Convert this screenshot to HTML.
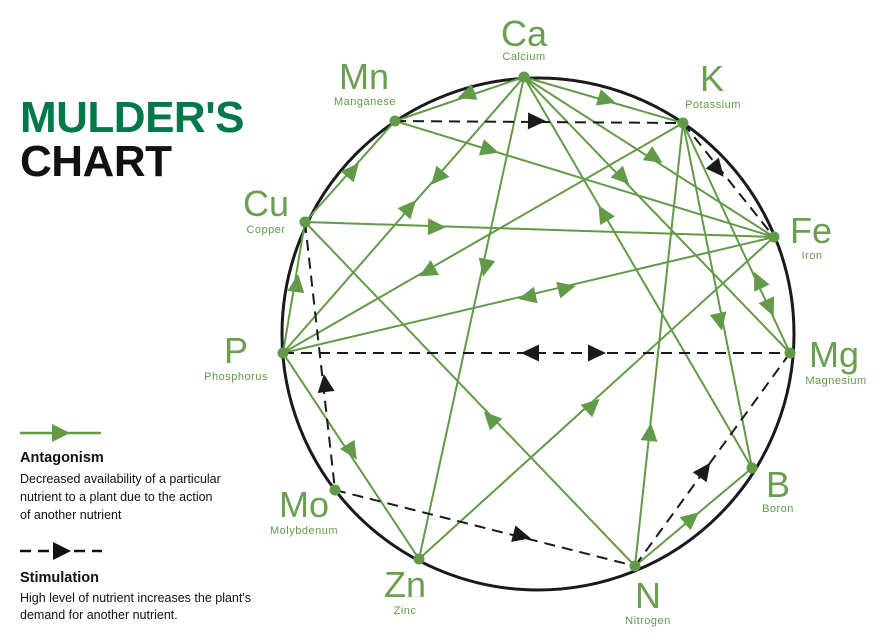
<!DOCTYPE html>
<html><head><meta charset="utf-8"><style>
html,body{margin:0;padding:0;background:#fff;}
svg{display:block;font-family:"Liberation Sans",sans-serif;}
.b{fill:#6a9f52;font-size:36px;text-anchor:middle;}
.s{fill:#629a48;font-size:11px;text-anchor:middle;letter-spacing:0.5px;}
.lt{font-size:12.5px;fill:#111;}
</style></head><body>
<svg id="c" width="881" height="637" viewBox="0 0 881 637" xmlns="http://www.w3.org/2000/svg">
<text x="20" y="132" font-size="44" font-weight="bold" fill="#00794a" letter-spacing="-0.5">MULDER'S</text>
<text x="20" y="176" font-size="44" font-weight="bold" fill="#111" letter-spacing="-0.5">CHART</text>
<line x1="20" y1="433" x2="101" y2="433" stroke="#629a48" stroke-width="2.5"/>
<polygon points="52,424 70,433 52,442" fill="#629a48"/>
<text x="20" y="462" font-size="14.5" font-weight="bold" fill="#111">Antagonism</text>
<text x="20" y="483" class="lt">Decreased availability of a particular</text>
<text x="20" y="501" class="lt">nutrient to a plant due to the action</text>
<text x="20" y="519" class="lt">of another nutrient</text>
<line x1="20" y1="551" x2="102" y2="551" stroke="#111" stroke-width="2.5" stroke-dasharray="11,7"/>
<polygon points="53,542 71,551 53,560" fill="#111"/>
<text x="20" y="582" font-size="14.5" font-weight="bold" fill="#111">Stimulation</text>
<text x="20" y="602" class="lt">High level of nutrient increases the plant's</text>
<text x="20" y="619" class="lt">demand for another nutrient.</text>
<circle cx="538" cy="334" r="256" fill="none" stroke="#1a1a1a" stroke-width="3"/>
<g id="lines"></g>
<text x="524" y="46" class="b">Ca</text><text x="524" y="60" class="s">Calcium</text>
<text x="364" y="89" class="b">Mn</text><text x="365" y="105" class="s">Manganese</text>
<text x="712" y="91" class="b">K</text><text x="713" y="108" class="s">Potassium</text>
<text x="266" y="216" class="b">Cu</text><text x="266" y="233" class="s">Copper</text>
<text x="811" y="243" class="b">Fe</text><text x="812" y="259" class="s">Iron</text>
<text x="236" y="363" class="b">P</text><text x="236" y="380" class="s">Phosphorus</text>
<text x="834" y="367" class="b">Mg</text><text x="836" y="384" class="s">Magnesium</text>
<text x="304" y="517" class="b">Mo</text><text x="304" y="534" class="s">Molybdenum</text>
<text x="778" y="497" class="b">B</text><text x="778" y="512" class="s">Boron</text>
<text x="405" y="597" class="b">Zn</text><text x="405" y="614" class="s">Zinc</text>
<text x="648" y="608" class="b">N</text><text x="648" y="624" class="s">Nitrogen</text>
</svg>
<script>
var N={Ca:[524,77],Mn:[395,121],K:[683,123],Cu:[305,222],Fe:[774,237],P:[283,353],Mg:[790,353],Mo:[335,490],B:[752,468],Zn:[419,559],N:[635,566]};
var G="#629a48",Bk="#1a1a1a";
var green=[["Ca","Mn"],["Ca","K"],["Ca","Fe"],["Ca","Mg"],["Ca","B"],["Ca","Zn"],["Cu","Mn"],["Mn","Fe"],["Cu","Fe"],["Ca","P"],["P","Cu"],["P","K"],["P","Fe"],["K","Mg"],["K","B"],["N","K"],["N","Cu"],["Zn","Fe"],["P","Zn"],["N","B"]];
var dashed=[["Mn","K"],["K","Fe"],["P","Mg"],["Cu","Mo"],["Mo","N"],["N","Mg"]];
var ga=[[466,95,"Mn"],[607,100,"K"],[655,158,"Fe"],[623,178,"Mg"],[603,213,"Ca"],[485,268,"Zn"],[353,170,"Mn"],[490,150,"Fe"],[437,227,"Fe"],[437,178,"P"],[410,207,"Ca"],[297,283,"Cu"],[427,272,"P"],[527,297,"P"],[567,288,"Fe"],[758,280,"K"],[770,308,"Mg"],[720,322,"B"],[650,432,"K"],[490,418,"Cu"],[593,405,"Fe"],[352,452,"Zn"],[692,518,"B"]];
var da=[[537,121,"K"],[718,170,"Fe"],[530,353,"P"],[597,353,"Mg"],[325,383,"Cu"],[522,536,"N"],[705,470,"Mg"]];
var g=document.getElementById("lines"),h="";
green.forEach(function(e){var a=N[e[0]],b=N[e[1]];h+='<line x1="'+a[0]+'" y1="'+a[1]+'" x2="'+b[0]+'" y2="'+b[1]+'" stroke="'+G+'" stroke-width="2"/>';});
dashed.forEach(function(e){var a=N[e[0]],b=N[e[1]];h+='<line x1="'+a[0]+'" y1="'+a[1]+'" x2="'+b[0]+'" y2="'+b[1]+'" stroke="'+Bk+'" stroke-width="2" stroke-dasharray="11,7"/>';});
function arr(list,col){list.forEach(function(a){var t=N[a[2]];var ang=Math.atan2(t[1]-a[1],t[0]-a[0])*180/Math.PI;h+='<polygon points="-9,-8.5 9,0 -9,8.5" fill="'+col+'" transform="translate('+a[0]+','+a[1]+') rotate('+ang+')"/>';});}
arr(ga,G);arr(da,Bk);
for(var k in N){h+='<circle cx="'+N[k][0]+'" cy="'+N[k][1]+'" r="5.5" fill="'+G+'"/>';}
g.innerHTML=h;
</script>
</body></html>
